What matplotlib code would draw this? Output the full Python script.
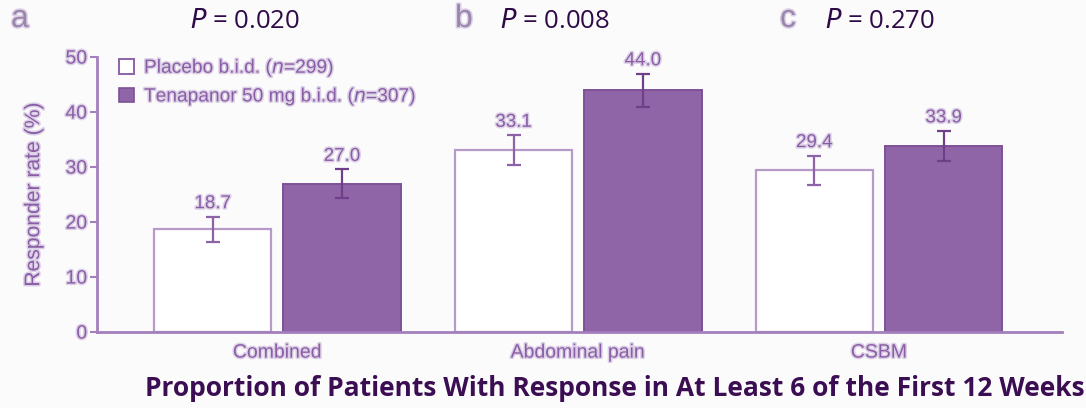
import matplotlib.pyplot as plt
import matplotlib.patheffects as pe
from matplotlib.patches import Patch
import numpy as np

# data
categories = ['Combined', 'Abdominal pain', 'CSBM']
placebo = [18.7, 33.1, 29.4]
tenapanor = [27.0, 44.0, 33.9]
placebo_err = [2.3, 2.7, 2.7]
tenapanor_err = [2.6, 3.0, 2.7]
p_values = ['0.020', '0.008', '0.270']
panel_letters = ['a', 'b', 'c']
yticks = [0, 10, 20, 30, 40, 50]

purple = '#9065a8'
edge = '#7d5197'
axis_col = '#a47fbd'
text_col = '#8a5ea6'
dark = '#2e0a47'
glow = [pe.withStroke(linewidth=2.2, foreground='#dcd0e6')]

plt.rcParams['font.family'] = ['Liberation Sans Narrow', 'Liberation Sans', 'DejaVu Sans']

fig = plt.figure(figsize=(10.86, 4.08), dpi=100, facecolor='#fcfbfb')
ax = fig.add_axes([0.0893, 0.186, 0.889, 0.674])
ax.set_facecolor('#fcfbfb')

x = np.arange(len(categories))
w = 0.39
off = 0.215
ax.bar(x - off, placebo, w, color='white', edgecolor='#b69ac8', linewidth=1.6, zorder=2)
ax.bar(x + off, tenapanor, w, color=purple, edgecolor=edge, linewidth=1.4, zorder=2)
ax.errorbar(x - off, placebo, yerr=placebo_err, fmt='none', ecolor='#8d63a8',
            elinewidth=1.6, capsize=5, capthick=1.6, zorder=3)
ax.errorbar(x + off, tenapanor, yerr=tenapanor_err, fmt='none', ecolor='#6f3f8a',
            elinewidth=1.6, capsize=5, capthick=1.6, zorder=3)

for xi, v, e in zip(x - off, placebo, placebo_err):
    ax.text(xi, v + e + 0.8, f'{v:.1f}', ha='center', va='bottom', fontsize=13.5,
            color=text_col, path_effects=glow)
for xi, v, e in zip(x + off, tenapanor, tenapanor_err):
    ax.text(xi, v + e + 0.8, f'{v:.1f}', ha='center', va='bottom', fontsize=13.5,
            color=text_col, path_effects=glow)

ax.set_xlim(-0.6, 2.61)
ax.set_ylim(0, 50)
ax.set_yticks(yticks)
ax.set_xticks(x)
ax.set_xticklabels(categories, fontsize=14, color=text_col, path_effects=glow)
ax.tick_params(axis='x', length=0, pad=9)
ax.tick_params(axis='y', colors=axis_col, labelcolor=text_col, labelsize=14,
               length=5, width=1.5, pad=2)
for lab in ax.get_yticklabels():
    lab.set_path_effects(glow)
for s in ['top', 'right']:
    ax.spines[s].set_visible(False)
for s in ['left', 'bottom']:
    ax.spines[s].set_color(axis_col)
    ax.spines[s].set_linewidth(2)
ax.set_ylabel('Responder rate (%)', fontsize=15.2, color=text_col, labelpad=16,
              path_effects=glow)

# legend
handles = [Patch(facecolor='white', edgecolor='#8d63a8', linewidth=1.4),
           Patch(facecolor=purple, edgecolor=edge, linewidth=1.2)]
labels = ['Placebo b.i.d. ($\\it{n}$=299)', 'Tenapanor 50 mg b.i.d. ($\\it{n}$=307)']
leg = ax.legend(handles, labels, loc='upper left', bbox_to_anchor=(0.005, 1.06),
                frameon=False, fontsize=13.8, handlelength=0.8, handleheight=0.8,
                handletextpad=0.5, labelspacing=0.4, labelcolor=text_col)
for t in leg.get_texts():
    t.set_path_effects(glow)

# panel letters and P values
letter_x = [11, 455, 780]
p_x = [245, 555, 880]
for lx, px, letter, p in zip(letter_x, p_x, panel_letters, p_values):
    fig.text(lx / 1086, 1 - 19 / 408, letter, fontsize=23, color='#9a86ad',
             ha='left', va='center', path_effects=glow)
    fig.text(px / 1086, 1 - 22 / 408, '$\\it{P}$ = ' + p, fontsize=18.5, color=dark,
             ha='center', va='center', family='Open Sans')

fig.text(615 / 1086, 1 - 389 / 408,
         'Proportion of Patients With Response in At Least 6 of the First 12 Weeks',
         fontsize=19, fontweight='bold', color='#3b0d52', ha='center', va='center',
         family='Open Sans')

fig.savefig('out.png', dpi=100, facecolor=fig.get_facecolor())
